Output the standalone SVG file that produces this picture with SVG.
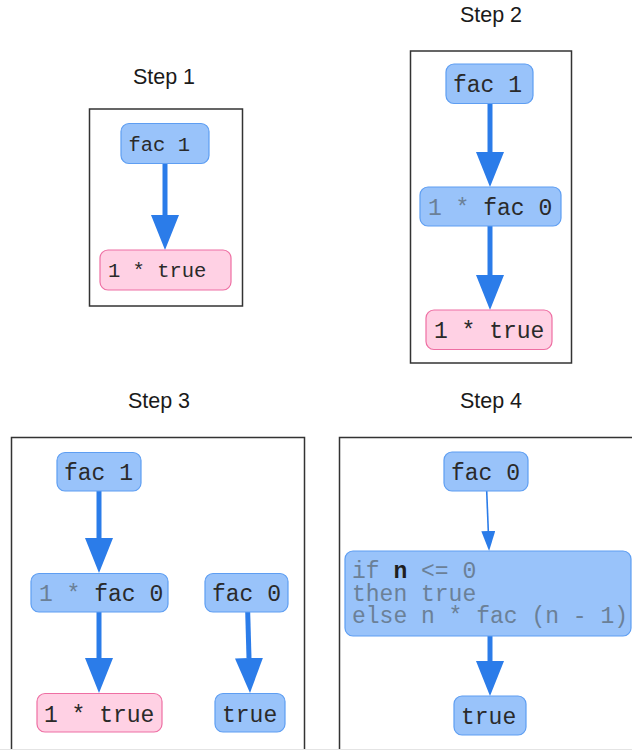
<svg xmlns="http://www.w3.org/2000/svg" width="632" height="750" viewBox="0 0 632 750">
  <style>
    .title { font-family: "Liberation Sans", Arial, sans-serif; font-size: 21.5px; fill: #1a1a1a; text-anchor: middle; }
    .frame { fill: none; stroke: #333333; stroke-width: 1.5; }
    .blue { fill: #99c3fa; stroke: #5e9ef2; stroke-width: 1.2; }
    .pink { fill: #ffd1e4; stroke: #ee6fa3; stroke-width: 1.2; }
    .code { font-family: "Liberation Mono", "Courier New", monospace; font-size: 23px; fill: #2a2a2a; }
    .small { font-size: 20.5px; }
    .dim { fill: #6b8097; }
    .edge { fill: none; stroke: #2b7ce9; stroke-width: 5; }
    .thin { stroke-width: 1.6; }
  </style>
  <defs>
    <marker id="head" viewBox="0 0 35 28" refX="0" refY="14" markerWidth="35" markerHeight="28" markerUnits="userSpaceOnUse" orient="auto">
      <path d="M0,0 L35,14 L0,28 z" fill="#2b7ce9"/>
    </marker>
    <marker id="head-thin" viewBox="0 0 20 14" refX="0" refY="7" markerWidth="20" markerHeight="14" markerUnits="userSpaceOnUse" orient="auto">
      <path d="M0,0 L20,7 L0,14 z" fill="#2b7ce9"/>
    </marker>
  </defs>

  <rect width="632" height="750" fill="#ffffff"/>

  <!-- titles -->
  <text class="title" x="164" y="84">Step 1</text>
  <text class="title" x="491" y="22">Step 2</text>
  <text class="title" x="159" y="408">Step 3</text>
  <text class="title" x="491" y="408">Step 4</text>

  <!-- frames -->
  <rect class="frame" x="89.5" y="109" width="153" height="197"/>
  <rect class="frame" x="410.5" y="51" width="161" height="312"/>
  <rect class="frame" x="11.5" y="437.5" width="293" height="320"/>
  <rect class="frame" x="339.5" y="437.5" width="300" height="320"/>
  <line x1="0" y1="749.5" x2="632" y2="749.5" stroke="#e4e4e4" stroke-width="1"/>

  <!-- connectors -->
  <g id="connectors">
    <path class="edge" d="M165,163 L165,215" marker-end="url(#head)"/>
    <path class="edge" d="M490,103 L490,152" marker-end="url(#head)"/>
    <path class="edge" d="M490,226 L490,275" marker-end="url(#head)"/>
    <path class="edge" d="M99,491 L99,538" marker-end="url(#head)"/>
    <path class="edge" d="M99,612 L99,658" marker-end="url(#head)"/>
    <path class="edge" d="M247.7,612 L249,658" marker-end="url(#head)"/>
    <path class="edge thin" d="M486.7,491 L488.3,531" marker-end="url(#head-thin)"/>
    <path class="edge" d="M490,636 L490,661" marker-end="url(#head)"/>
  </g>

  <!-- step 1 -->
  <g id="s1-fac1">
    <rect class="blue" x="121" y="123.5" width="88" height="40" rx="8"/>
    <text class="code small" x="128.5" y="151">fac 1</text>
  </g>
  <g id="s1-result">
    <rect class="pink" x="100" y="250" width="131" height="40" rx="8"/>
    <text class="code small" x="108" y="277">1 * true</text>
  </g>

  <!-- step 2 -->
  <g id="s2-fac1">
    <rect class="blue" x="446" y="64" width="87" height="39.5" rx="8"/>
    <text class="code" x="453" y="92">fac 1</text>
  </g>
  <g id="s2-mul">
    <rect class="blue" x="420" y="187" width="141" height="39" rx="8"/>
    <text class="code" x="428" y="215"><tspan class="dim">1 * </tspan>fac 0</text>
  </g>
  <g id="s2-result">
    <rect class="pink" x="426" y="310" width="126" height="39.5" rx="8"/>
    <text class="code" x="434" y="338">1 * true</text>
  </g>

  <!-- step 3 -->
  <g id="s3-fac1">
    <rect class="blue" x="57" y="452.5" width="84" height="38.5" rx="8"/>
    <text class="code" x="64" y="480">fac 1</text>
  </g>
  <g id="s3-mul">
    <rect class="blue" x="31" y="573.5" width="137" height="38.5" rx="8"/>
    <text class="code" x="39" y="601"><tspan class="dim">1 * </tspan>fac 0</text>
  </g>
  <g id="s3-result">
    <rect class="pink" x="37" y="693.5" width="125" height="38.5" rx="8"/>
    <text class="code" x="44" y="722">1 * true</text>
  </g>
  <g id="s3-fac0">
    <rect class="blue" x="205" y="573.5" width="83" height="38.5" rx="8"/>
    <text class="code" x="212" y="601">fac 0</text>
  </g>
  <g id="s3-true">
    <rect class="blue" x="215" y="693.5" width="70" height="38.5" rx="8"/>
    <text class="code" x="222" y="722">true</text>
  </g>

  <!-- step 4 -->
  <g id="s4-fac0">
    <rect class="blue" x="444" y="452" width="84" height="39" rx="8"/>
    <text class="code" x="451" y="480">fac 0</text>
  </g>
  <g id="s4-body">
    <rect class="blue" x="345" y="551" width="286" height="85" rx="8"/>
    <text class="code dim" x="352" y="578">if <tspan font-weight="bold" fill="#1f1f1f">n</tspan> &lt;= 0<tspan x="352" dy="22.7">then true</tspan><tspan x="352" dy="22.6">else n * fac (n - 1)</tspan></text>
  </g>
  <g id="s4-true">
    <rect class="blue" x="454" y="696" width="72" height="39" rx="8"/>
    <text class="code" x="461" y="723.5">true</text>
  </g>
</svg>
